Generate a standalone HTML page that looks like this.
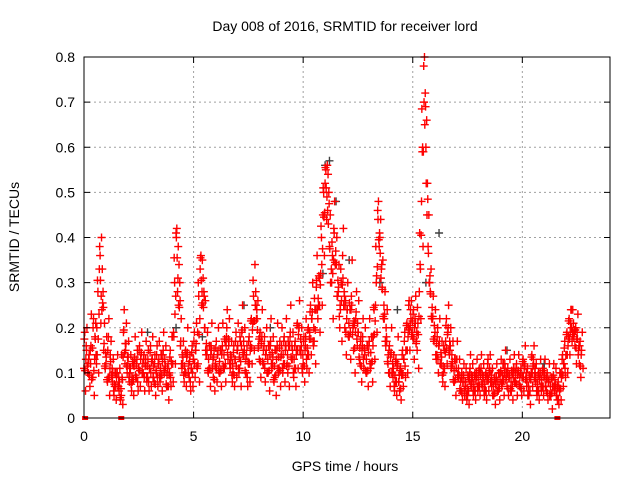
<!DOCTYPE html>
<html><head><meta charset="utf-8"><style>
html,body{margin:0;padding:0;background:#fff}
svg{display:block;font-family:"Liberation Sans",sans-serif}
</style></head><body>
<svg id="chart" width="640" height="480" viewBox="0 0 640 480">
<text x="345" y="31" font-size="14" text-anchor="middle">Day 008 of 2016, SRMTID for receiver lord</text>
<text x="345" y="471" font-size="14" text-anchor="middle">GPS time / hours</text>
<text transform="translate(19,237) rotate(-90)" font-size="14" text-anchor="middle">SRMTID / TECUs</text>
<g id="grid"></g>
<g id="marks"></g>
<rect x="84" y="57" width="526" height="361" fill="none" stroke="#000" stroke-width="1"/>
<g id="ticks"></g>
</svg>
<script>
const xTicks=[0,5,10,15,20];
const yTicks=[0,0.1,0.2,0.3,0.4,0.5,0.6,0.7,0.8];
const yTickLabels=["0","0.1","0.2","0.3","0.4","0.5","0.6","0.7","0.8"];
const seriesMid=[.11,.16,.10,.12,.09,.18,.14,.33,.40,.15,.12,.09,.14,.08,.07,.10,.06,.05,.19,.15,.12,.10,.08,.13,.09,.11,.14,.10,.12,.09,.11,.13,.08,.10,.12,.09,.14,.11,.07,.10,.12,.18,.41,.38,.16,.12,.10,.14,.09,.11,.13,.15,.12,.33,.35,.20,.14,.11,.16,.09,.12,.14,.10,.15,.11,.18,.16,.12,.10,.13,.15,.11,.19,.14,.10,.12,.16,.21,.34,.22,.13,.17,.12,.14,.10,.16,.12,.09,.15,.11,.14,.12,.16,.10,.18,.13,.11,.15,.20,.14,.12,.16,.14,.19,.22,.17,.29,.25,.32,.45,.52,.56,.38,.30,.42,.34,.28,.24,.36,.20,.24,.18,.27,.15,.22,.19,.12,.16,.14,.10,.16,.12,.18,.25,.46,.40,.29,.22,.18,.10,.14,.09,.08,.12,.06,.10,.13,.15,.20,.24,.18,.22,.15,.28,.48,.78,.60,.38,.28,.22,.18,.14,.16,.12,.10,.17,.19,.15,.12,.08,.13,.09,.06,.08,.07,.05,.10,.08,.06,.09,.07,.10,.08,.06,.09,.11,.07,.05,.08,.06,.10,.08,.12,.07,.09,.06,.11,.08,.10,.07,.09,.12,.07,.05,.10,.13,.08,.06,.09,.07,.10,.06,.08,.05,.09,.07,.04,.06,.10,.12,.14,.18,.21,.24,.16,.19,.12,.15];
const seriesHigh=[.19,.20,.14,.23,.22,.21,.28,.36,.33,.21,.18,.22,.17,.13,.10,.14,.11,.09,.24,.21,.17,.14,.12,.18,.15,.16,.19,.14,.17,.15,.16,.18,.14,.16,.17,.14,.19,.16,.12,.15,.18,.30,.42,.34,.22,.17,.15,.20,.14,.16,.19,.21,.27,.36,.31,.26,.19,.16,.21,.15,.17,.20,.15,.21,.17,.24,.22,.17,.16,.19,.21,.17,.25,.20,.16,.18,.22,.27,.28,.26,.19,.24,.18,.20,.16,.22,.18,.15,.21,.17,.20,.18,.22,.16,.25,.19,.17,.21,.26,.20,.18,.22,.20,.25,.30,.24,.36,.31,.40,.50,.55,.54,.45,.36,.48,.40,.34,.30,.42,.26,.30,.24,.35,.21,.28,.26,.18,.22,.20,.16,.22,.18,.24,.30,.48,.44,.35,.28,.24,.16,.20,.14,.13,.18,.11,.15,.19,.21,.26,.26,.24,.27,.21,.34,.59,.80,.66,.45,.33,.27,.24,.20,.22,.17,.15,.22,.25,.20,.17,.13,.17,.13,.10,.12,.11,.09,.14,.12,.10,.13,.11,.14,.12,.10,.13,.14,.11,.09,.12,.10,.13,.12,.15,.11,.13,.10,.14,.12,.14,.11,.13,.16,.11,.09,.14,.16,.12,.10,.13,.11,.13,.10,.12,.09,.12,.11,.08,.10,.14,.17,.19,.22,.24,.21,.20,.23,.17,.19];
const seriesLow=[.06,.10,.07,.09,.05,.12,.10,.21,.28,.11,.08,.05,.09,.05,.04,.07,.04,.03,.12,.10,.08,.06,.05,.09,.06,.07,.10,.06,.08,.06,.07,.09,.05,.07,.08,.06,.10,.07,.04,.07,.08,.12,.28,.30,.11,.08,.07,.10,.06,.07,.09,.11,.08,.25,.28,.14,.10,.07,.11,.06,.08,.10,.07,.11,.08,.13,.11,.08,.07,.09,.10,.07,.14,.10,.07,.08,.12,.15,.22,.16,.09,.12,.08,.10,.06,.11,.08,.05,.10,.07,.10,.08,.12,.07,.13,.09,.07,.11,.15,.10,.08,.11,.10,.14,.16,.12,.22,.19,.25,.36,.44,.50,.30,.22,.34,.27,.20,.17,.28,.14,.18,.13,.20,.10,.16,.13,.08,.11,.10,.07,.11,.08,.13,.19,.38,.33,.22,.16,.12,.07,.10,.06,.05,.08,.04,.07,.09,.10,.15,.19,.13,.17,.11,.22,.38,.72,.52,.30,.22,.17,.13,.10,.12,.08,.07,.12,.14,.11,.08,.05,.09,.06,.04,.05,.04,.03,.07,.05,.04,.06,.05,.07,.05,.04,.06,.08,.05,.03,.06,.04,.07,.05,.09,.05,.06,.04,.08,.05,.07,.05,.06,.09,.05,.03,.07,.10,.05,.04,.06,.05,.07,.04,.05,.02,.06,.05,.03,.04,.07,.09,.10,.14,.17,.19,.12,.15,.09,.11];
const grayTimes=[4.2,5.4,7.3,10.9,11.2,11.5,13.5,14.3,15.6,16.2,19.3,21.0,11.0,12.1,8.5,2.9];
const grayValues=[.20,.18,.25,.32,.57,.48,.30,.24,.30,.41,.15,.12,.56,.35,.20,.19];
const zeroTimes=[0.05,1.7,21.6];
const step=0.1;

const X0=84,X1=610,Y0=418,Y1=57,XMAX=24,YMAX=0.8;
function xs(t){return X0+(X1-X0)*t/XMAX;}
function ys(v){return Y0-(Y0-Y1)*v/YMAX;}
const NS="http://www.w3.org/2000/svg";
const grid=document.getElementById('grid'),ticks=document.getElementById('ticks'),marks=document.getElementById('marks');
function mk(tag,attrs,parent){const e=document.createElementNS(NS,tag);for(const k in attrs)e.setAttribute(k,attrs[k]);parent.appendChild(e);return e;}
xTicks.forEach(t=>{
  const x=xs(t);
  if(t>0){const g=mk('line',{x1:x,x2:x,y1:Y0,y2:Y1,stroke:'#a0a0a0','stroke-dasharray':'2,3','stroke-width':1},grid);
  
  }
  mk('line',{x1:x,x2:x,y1:Y0,y2:Y0-6,stroke:'#000'},ticks);
  mk('line',{x1:x,x2:x,y1:Y1,y2:Y1+6,stroke:'#000'},ticks);
  const l=mk('text',{x:x,y:Y0+23,'font-size':14,'text-anchor':'middle'},ticks);l.textContent=t;
  
  
});
yTicks.forEach((v,i)=>{
  const y=ys(v);
  if(i>0&&i<yTicks.length-1){const g=mk('line',{x1:X0,x2:X1,y1:y,y2:y,stroke:'#a0a0a0','stroke-dasharray':'2,3','stroke-width':1},grid);
  
  }
  mk('line',{x1:X0,x2:X0+6,y1:y,y2:y,stroke:'#000'},ticks);
  mk('line',{x1:X1,x2:X1-6,y1:y,y2:y,stroke:'#000'},ticks);
  const l=mk('text',{x:X0-9,y:y+5,'font-size':14,'text-anchor':'end'},ticks);l.textContent=yTickLabels[i];
  
  
});
function plus(t,v,color){
  const x=xs(t),y=ys(v);
  const p=mk('path',{d:`M${x-4},${y}h8M${x},${y-4}v8`,stroke:color,'stroke-width':1.4,fill:'none'},marks);
  
  
}
grayTimes.forEach((t,i)=>plus(t,grayValues[i],'#404040'));
seriesMid.forEach((v,i)=>plus(i*step,v,'#ff0000'));
seriesHigh.forEach((v,i)=>plus(i*step+0.035,v,'#ff0000'));
seriesLow.forEach((v,i)=>plus(i*step+0.07,v,'#ff0000'));
seriesMid.forEach((v,i)=>{if(i<seriesMid.length-1)plus(i*step+0.05,(v+seriesLow[i+1])/2,'#ff0000');});
seriesHigh.forEach((v,i)=>{if(i<seriesHigh.length-1)plus(i*step+0.015,(v+seriesMid[i+1])/2,'#ff0000');});
seriesLow.forEach((v,i)=>{if(i<seriesLow.length-1)plus(i*step+0.085,(v+seriesHigh[i+1])/2,'#ff0000');});
zeroTimes.forEach(t=>{
  const r=mk('rect',{x:xs(t)-3,y:Y0-2,width:6,height:4,fill:'#ff0000'},marks);
  
  
});
</script>
</body></html>
